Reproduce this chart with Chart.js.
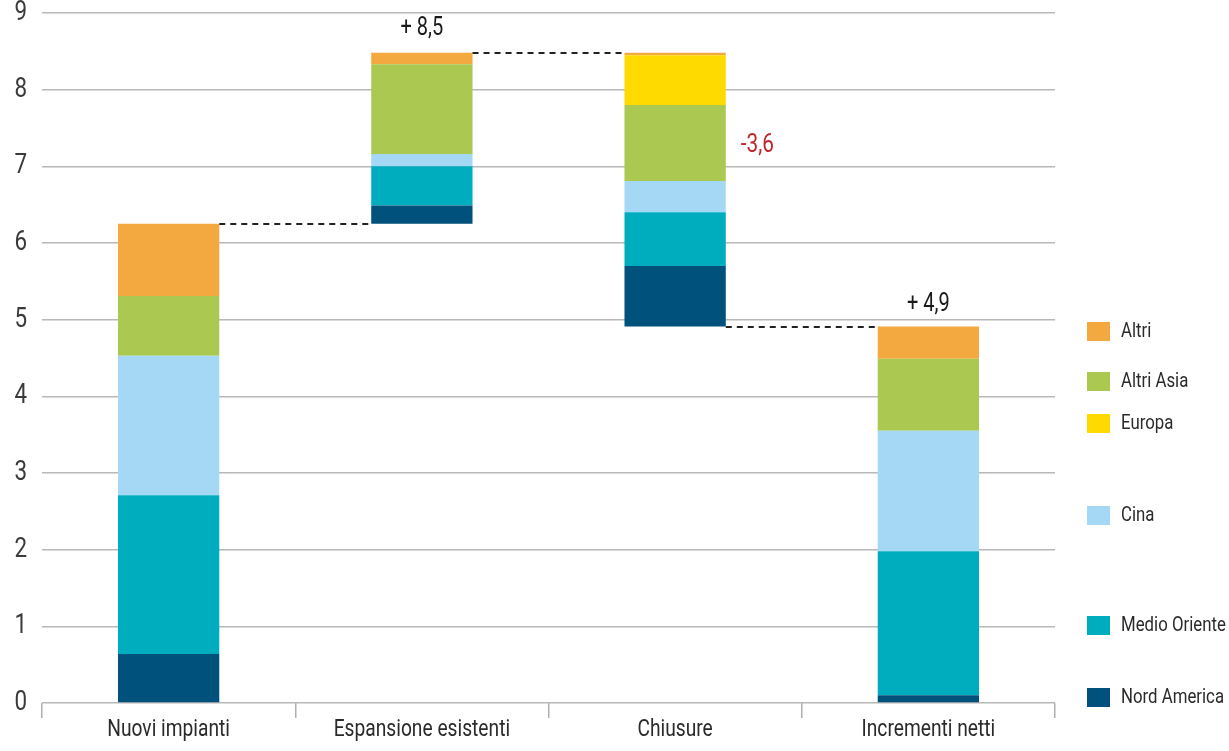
<!DOCTYPE html>
<html>
<head>
<meta charset="utf-8">
<script src="https://cdn.jsdelivr.net/npm/chart.js@4.4.1/dist/chart.umd.min.js"></script>
<style>
  html, body { margin: 0; padding: 0; background: #ffffff; }
  #wrap { width: 1229px; height: 751px; position: relative; }
</style>
</head>
<body>
<div id="wrap"><canvas id="c" width="1229" height="751"></canvas></div>
<script>
// Capacity changes by region (waterfall: new plants, expansions, closures, net increase)
const categories   = ['Nuovi impianti', 'Espansione esistenti', 'Chiusure', 'Incrementi netti'];
const nordAmerica  = [0.64, 0.24, 0.79, 0.10];
const medioOriente = [2.07, 0.51, 0.70, 1.88];
const cina         = [1.82, 0.16, 0.41, 1.57];
const altriAsia    = [0.78, 1.17, 0.99, 0.94];
const europa       = [0.00, 0.00, 0.65, 0.00];
const altri        = [0.94, 0.15, 0.03, 0.42];
const yTickValues  = [0, 1, 2, 3, 4, 5, 6, 7, 8, 9];

const FONT = "Roboto, 'Liberation Sans', sans-serif";
const NARROW = 0.8; // horizontal squeeze for a condensed look

const series = [
  { label: 'Nord America',  data: nordAmerica,  color: '#00527c' },
  { label: 'Medio Oriente', data: medioOriente, color: '#00adbf' },
  { label: 'Cina',          data: cina,         color: '#a5d8f5' },
  { label: 'Altri Asia',    data: altriAsia,    color: '#abc851' },
  { label: 'Europa',        data: europa,       color: '#ffda00' },
  { label: 'Altri',         data: altri,        color: '#f4a840' }
];

// Height of each bar and the floor each one starts from
const totals = categories.map((_, i) => series.reduce((s, d) => s + d.data[i], 0));
const bases = [0, totals[0], totals[3], 0];
const tops = totals.map((t, i) => bases[i] + t);

const fmt = v => (Math.round(v * 10) / 10).toFixed(1).replace('.', ',');

const datasets = [{
  label: '_base',
  data: bases,
  backgroundColor: 'rgba(0,0,0,0)',
  borderWidth: 0,
  stack: 's'
}].concat(series.map(s => ({
  label: s.label,
  data: s.data,
  backgroundColor: s.color,
  borderWidth: 0,
  stack: 's'
})));

// Condensed text helper
function narrowText(ctx, text, x, y, align, baseline, size, color) {
  ctx.save();
  ctx.font = size + 'px ' + FONT;
  ctx.fillStyle = color;
  ctx.textAlign = align;
  ctx.textBaseline = baseline;
  ctx.translate(x, y);
  ctx.scale(NARROW, 1);
  ctx.fillText(text, 0, 0);
  ctx.restore();
}

// Axis labels drawn through the chart's own scales
const axisLabels = {
  id: 'axisLabels',
  afterDraw(chart) {
    const ctx = chart.ctx;
    const xs = chart.scales.x, ys = chart.scales.y;
    yTickValues.forEach(v => {
      narrowText(ctx, String(v), ys.right - 15, ys.getPixelForValue(v), 'right', 'middle', 28, '#3a3a3a');
    });
    categories.forEach((c, i) => {
      narrowText(ctx, c, xs.getPixelForTick(i), xs.top + 27, 'center', 'middle', 24, '#2a2a2a');
    });
  }
};

// Dashed connectors between neighbouring bars plus value annotations
const waterfallExtras = {
  id: 'waterfallExtras',
  afterDatasetsDraw(chart) {
    const ctx = chart.ctx;
    const y = chart.scales.y;
    const bars = chart.getDatasetMeta(datasets.length - 1).data;
    const levels = [tops[0], tops[1], bases[2]];
    ctx.save();
    ctx.strokeStyle = '#222';
    ctx.lineWidth = 2;
    ctx.setLineDash([6, 5]);
    for (let i = 0; i < levels.length; i++) {
      const a = bars[i], b = bars[i + 1];
      const py = Math.round(y.getPixelForValue(levels[i]));
      ctx.beginPath();
      ctx.moveTo(a.x + a.width / 2, py);
      ctx.lineTo(b.x - b.width / 2, py);
      ctx.stroke();
    }
    ctx.restore();

    narrowText(ctx, '+ ' + fmt(tops[1]), bars[1].x, y.getPixelForValue(tops[1]) - 24, 'center', 'middle', 25, '#1a1a1a');
    narrowText(ctx, '+ ' + fmt(tops[3]), bars[3].x, y.getPixelForValue(tops[3]) - 22, 'center', 'middle', 25, '#1a1a1a');
    narrowText(ctx, '-' + fmt(totals[2]), bars[2].x + bars[2].width / 2 + 15, y.getPixelForValue(tops[2]) + 93, 'left', 'middle', 26, '#c0272d');
  }
};

// Legend column on the right
const sideLegend = {
  id: 'sideLegend',
  afterDraw(chart) {
    const ctx = chart.ctx;
    const order = ['Altri', 'Altri Asia', 'Europa', 'Cina', 'Medio Oriente', 'Nord America'];
    const rowY = [332, 382, 424, 516, 626, 698];
    order.forEach((name, k) => {
      const s = series.find(d => d.label === name);
      ctx.fillStyle = s.color;
      ctx.fillRect(1087, rowY[k] - 10, 23, 19);
      narrowText(ctx, name, 1121, rowY[k], 'left', 'middle', 21, '#2a2a2a');
    });
  }
};

new Chart(document.getElementById('c'), {
  type: 'bar',
  data: { labels: categories, datasets },
  plugins: [waterfallExtras, sideLegend, axisLabels],
  options: {
    responsive: false,
    animation: false,
    devicePixelRatio: 1,
    categoryPercentage: 1,
    barPercentage: 0.4,
    layout: { padding: { top: 13, right: 174, left: 0, bottom: 0 } },
    plugins: {
      legend: { display: false },
      tooltip: { enabled: false }
    },
    scales: {
      x: {
        stacked: true,
        grid: {
          offset: true,
          drawOnChartArea: false,
          drawTicks: true,
          tickLength: 15,
          color: '#b0b0b0',
          lineWidth: 1.5
        },
        border: { display: false },
        ticks: { display: false },
        afterFit(scale) { scale.height = 48; }
      },
      y: {
        stacked: true,
        min: yTickValues[0],
        max: yTickValues[yTickValues.length - 1],
        afterBuildTicks(scale) { scale.ticks = yTickValues.map(v => ({ value: v })); },
        grid: { color: '#b8b8b8', lineWidth: 1.5, drawTicks: false },
        border: { display: false },
        ticks: { display: false },
        afterFit(scale) { scale.width = 42; }
      }
    }
  }
});
</script>
</body>
</html>
